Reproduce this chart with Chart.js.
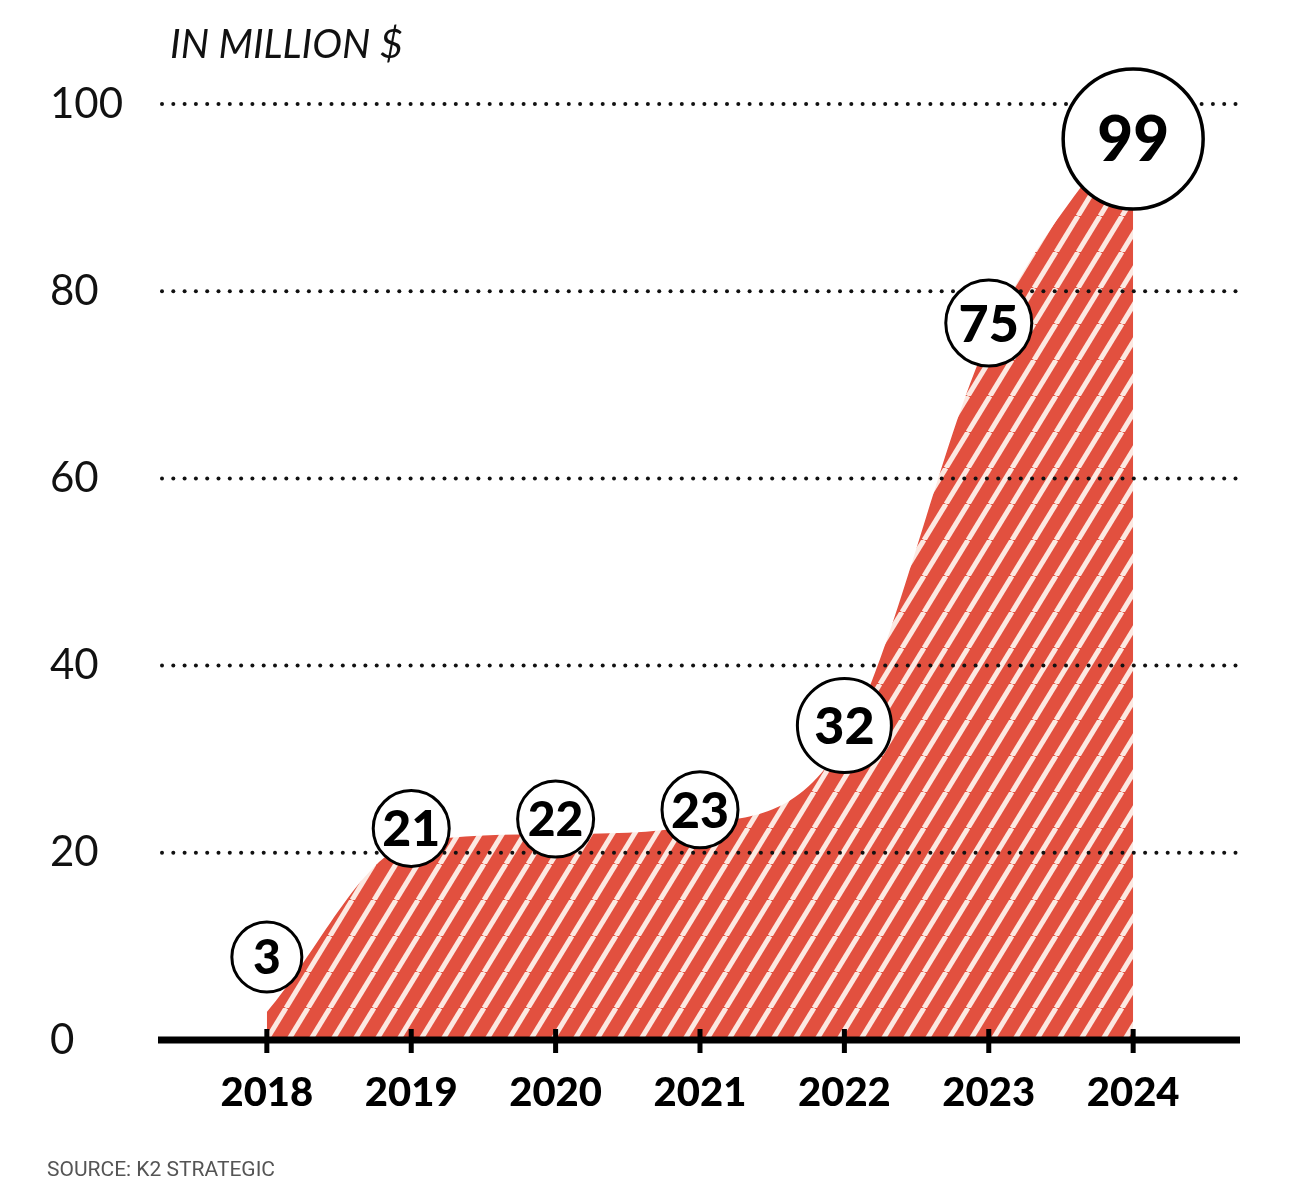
<!DOCTYPE html>
<html><head><meta charset="utf-8">
<script src="https://cdn.jsdelivr.net/npm/chart.js@4.4.1/dist/chart.umd.min.js"></script>
<style>html,body{margin:0;padding:0;background:#fff}canvas{display:block}</style>
</head><body>
<canvas id="c" width="1306" height="1200"></canvas>
<script>
// ---- data ----
const years = ['2018', '2019', '2020', '2021', '2022', '2023', '2024'];
const revenue = [3, 21, 22, 23, 32, 75, 99];
const yTickValues = [0, 20, 40, 60, 80, 100];
const unitLabel = 'IN MILLION $';
const sourceLabel = 'SOURCE: K2 STRATEGIC';

// ---- style ----
const bubbleRadius = [35, 38, 38, 38, 47, 43, 70];
const bubbleFont = [48, 50, 48, 50, 52, 52, 62];
const RED = '#E2503F', STRIPE = '#FCE9E2';

function makeStripes() {
  const s = 22, h = 36;
  const c = document.createElement('canvas'); c.width = s; c.height = h;
  const g = c.getContext('2d');
  g.fillStyle = RED; g.fillRect(0, 0, s, h);
  g.strokeStyle = STRIPE; g.lineWidth = 5;
  for (const dx of [-s, 0, s]) { g.beginPath(); g.moveTo(dx, h); g.lineTo(dx + s, 0); g.stroke(); }
  return g.createPattern(c, 'repeat');
}

const decor = {
  id: 'decor',
  afterDatasetsDraw(chart) {
    const { ctx, chartArea: a, scales: { x, y } } = chart;
    ctx.save();
    // dotted grid lines
    ctx.fillStyle = '#111';
    y.ticks.forEach(t => {
      if (t.value === 0) return;
      const py = y.getPixelForValue(t.value);
      for (let px = a.left + 2; px <= a.right; px += 11.3) {
        ctx.beginPath(); ctx.arc(px, py, 2, 0, Math.PI * 2); ctx.fill();
      }
    });
    // axis line + ticks
    const y0 = y.getPixelForValue(0);
    ctx.fillStyle = '#000';
    ctx.fillRect(a.left - 2, y0 - 3.5, a.right - a.left + 2, 7);
    x.ticks.forEach(t => {
      const px = x.getPixelForValue(t.value);
      ctx.fillRect(px - 2.5, y0 - 11, 5, 24);
    });
    // value bubbles
    const meta = chart.getDatasetMeta(0);
    meta.data.forEach((pt, i) => {
      const r = bubbleRadius[i];
      const cx = pt.x;
      let cy = pt.y - 15;
      cy = Math.max(cy, a.top + r / 2);      // keep the big bubble mostly inside
      cy = Math.min(cy, y0 - r - 48);        // keep bubbles clear of the axis
      ctx.beginPath(); ctx.arc(cx, cy, r, 0, Math.PI * 2);
      ctx.fillStyle = '#fff'; ctx.fill();
      ctx.lineWidth = i === revenue.length - 1 ? 3.5 : 3;
      ctx.strokeStyle = '#000'; ctx.stroke();
      const fs = bubbleFont[i];
      ctx.fillStyle = '#000';
      ctx.font = `900 ${fs}px Lato`;
      ctx.textAlign = 'center'; ctx.textBaseline = 'alphabetic';
      ctx.fillText(String(revenue[i]), cx, cy + fs * 0.36);
    });
    ctx.restore();
  },
  afterDraw(chart) {
    const { ctx } = chart;
    ctx.save();
    ctx.fillStyle = '#111';
    ctx.font = 'italic 400 40px Lato';
    ctx.textAlign = 'left'; ctx.textBaseline = 'alphabetic';
    ctx.fillText(unitLabel, 170, 58);
    ctx.fillStyle = '#555';
    ctx.font = '400 21px Roboto';
    ctx.fillText(sourceLabel, 47, 1176);
    ctx.restore();
  }
};

new Chart(document.getElementById('c'), {
  type: 'line',
  data: {
    datasets: [{
      data: revenue.map((v, i) => ({ x: i, y: v })),
      backgroundColor: makeStripes(),
      borderWidth: 0,
      pointRadius: 0,
      fill: 'origin',
      cubicInterpolationMode: 'monotone'
    }]
  },
  options: {
    responsive: false,
    animation: false,
    devicePixelRatio: 1,
    layout: { padding: { left: 50, right: 66, top: 104, bottom: 60 } },
    plugins: { legend: { display: false }, tooltip: { enabled: false }, title: { display: false } },
    scales: {
      x: {
        type: 'linear',
        min: -0.74, max: 6.74,
        afterBuildTicks: s => { s.ticks = years.map((_, i) => ({ value: i })); },
        afterFit: s => { s.height = 100; },
        grid: { display: false, drawTicks: false },
        border: { display: false },
        ticks: {
          padding: 29,
          color: '#000',
          font: { family: 'Lato', size: 40, weight: '900' },
          callback: v => years[v] ?? '',
          maxRotation: 0, autoSkip: false
        }
      },
      y: {
        min: 0, max: 100,
        afterBuildTicks: s => { s.ticks = yTickValues.map(v => ({ value: v })); },
        afterFit: s => { s.width = 110; },
        grid: { display: false, drawTicks: false },
        border: { display: false },
        ticks: {
          crossAlign: 'far',
          color: '#111',
          font: { family: 'Lato', size: 42, weight: '400' }
        }
      }
    }
  },
  plugins: [decor]
});
</script>
</body></html>
